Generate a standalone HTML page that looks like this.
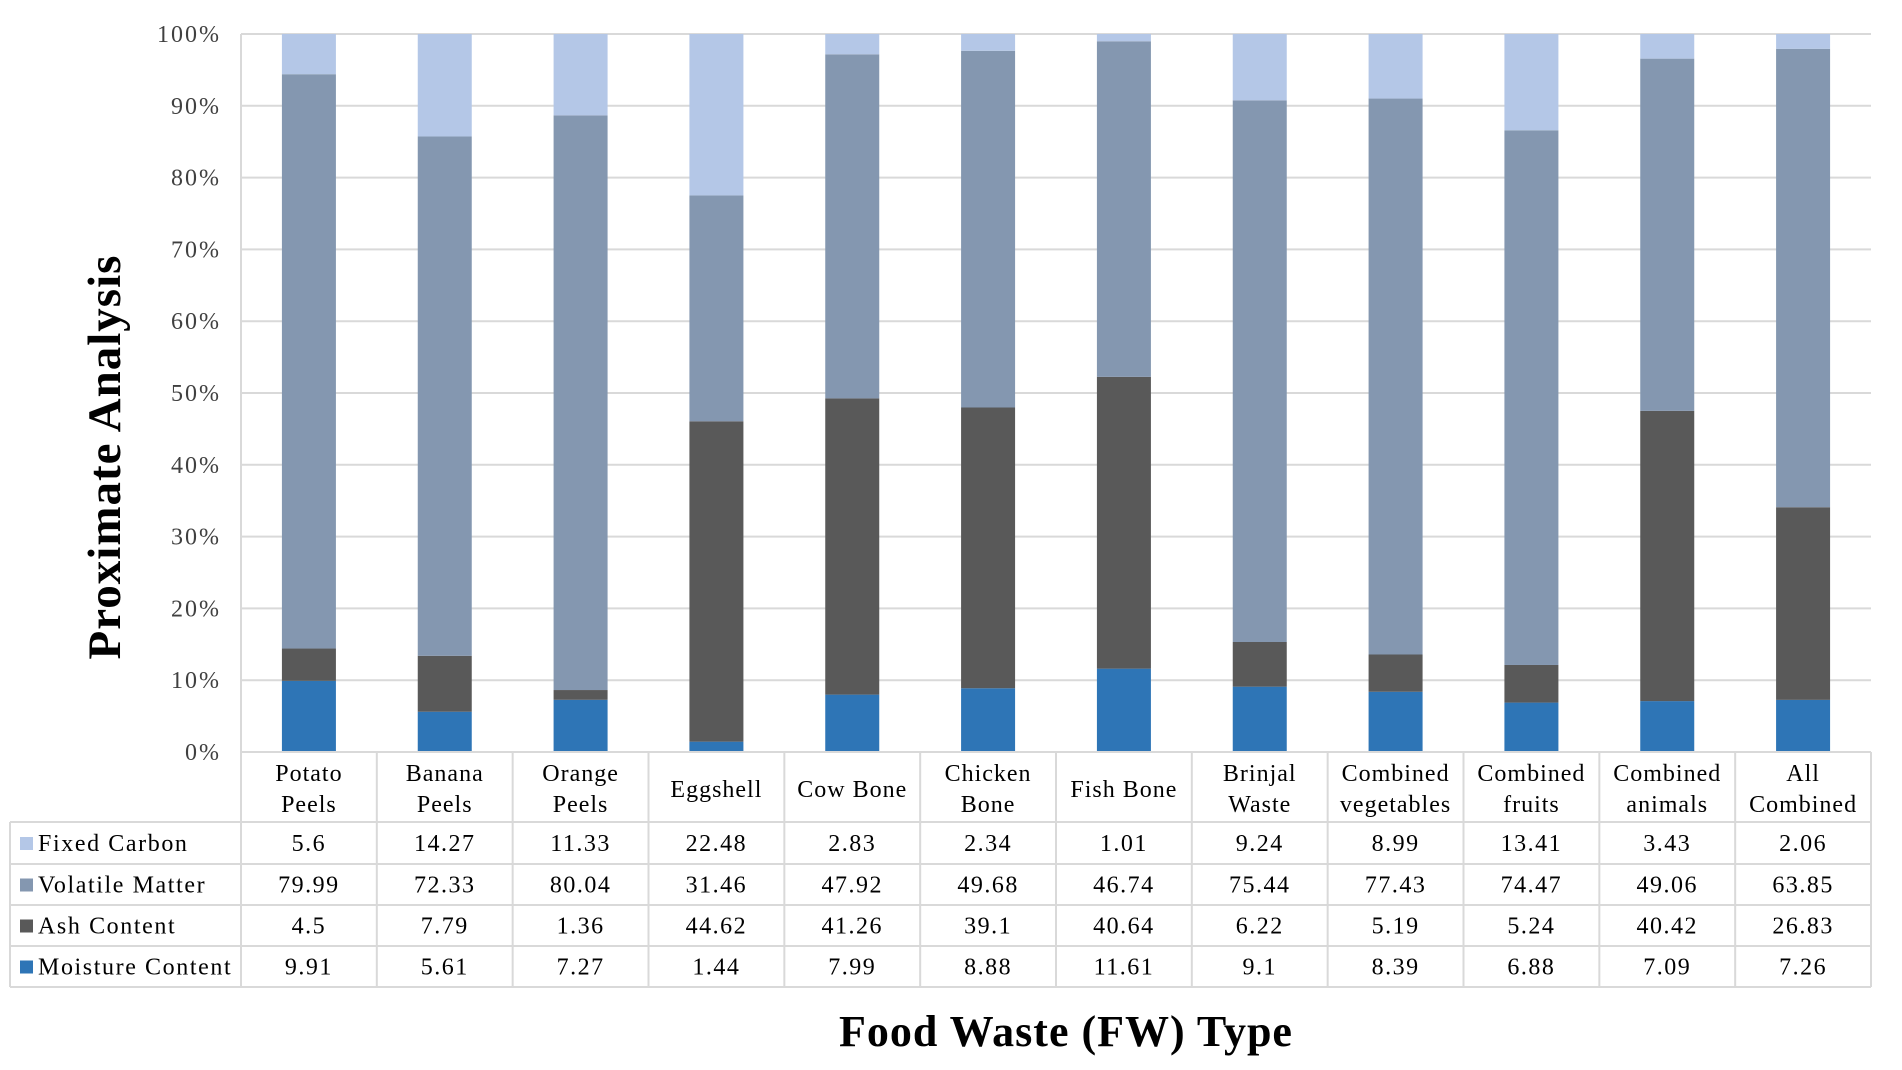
<!DOCTYPE html>
<html><head><meta charset="utf-8"><style>
html,body{margin:0;padding:0;background:#fff;}
svg{display:block;font-family:"Liberation Serif",serif;}
</style></head><body>
<svg id="chart" width="1902" height="1070" viewBox="0 0 1902 1070" xmlns="http://www.w3.org/2000/svg">
<text transform="translate(120,457) rotate(-90)" text-anchor="middle" font-size="47" font-weight="bold" fill="#000" letter-spacing="1">Proximate Analysis</text>
<text x="1066" y="1046" text-anchor="middle" font-size="44" font-weight="bold" fill="#000" letter-spacing="1">Food Waste (FW) Type</text>
</svg>
<script>
const categories=[["Potato","Peels"],["Banana","Peels"],["Orange","Peels"],["Eggshell"],["Cow Bone"],["Chicken","Bone"],["Fish Bone"],["Brinjal","Waste"],["Combined","vegetables"],["Combined","fruits"],["Combined","animals"],["All","Combined"]];
const moisture=[9.91,5.61,7.27,1.44,7.99,8.88,11.61,9.1,8.39,6.88,7.09,7.26];
const ash=[4.5,7.79,1.36,44.62,41.26,39.1,40.64,6.22,5.19,5.24,40.42,26.83];
const volatile=[79.99,72.33,80.04,31.46,47.92,49.68,46.74,75.44,77.43,74.47,49.06,63.85];
const fixedCarbon=[5.6,14.27,11.33,22.48,2.83,2.34,1.01,9.24,8.99,13.41,3.43,2.06];
const tickLabels=["0%","10%","20%","30%","40%","50%","60%","70%","80%","90%","100%"];
const seriesNames=["Fixed Carbon","Volatile Matter","Ash Content","Moisture Content"];

const NS="http://www.w3.org/2000/svg";
const svg=document.getElementById('chart');
const L=241,R=1871,T=34,B=752;
const n=categories.length, cw=(R-L)/n, bw=54;
const colors={"Fixed Carbon":"#b4c7e7","Volatile Matter":"#8497b0","Ash Content":"#595959","Moisture Content":"#2e75b6"};
const seriesData={"Fixed Carbon":fixedCarbon,"Volatile Matter":volatile,"Ash Content":ash,"Moisture Content":moisture};
const yScale=p=>B-(B-T)*p/100;
const xCenter=i=>L+cw*(i+0.5);
function mk(tag,attrs){const e=document.createElementNS(NS,tag);for(const k in attrs)e.setAttribute(k,attrs[k]);svg.appendChild(e);return e;}

tickLabels.forEach((t,i)=>{
  const y=yScale(i*10);
  const g=mk('line',{x1:L,x2:R,y1:y,y2:y,stroke:'#d9d9d9','stroke-width':2});
  
  
  const tx=mk('text',{x:221,y:y+8,'text-anchor':'end','font-size':24,fill:'#404040','letter-spacing':'2'});
  tx.textContent=t;
  
  
});
mk('line',{x1:L,x2:L,y1:T,y2:B,stroke:'#d9d9d9','stroke-width':2});

const order=["Moisture Content","Ash Content","Volatile Matter","Fixed Carbon"];
categories.forEach((c,i)=>{
  const tot=order.reduce((s,k)=>s+seriesData[k][i],0);
  let acc=0;
  order.forEach(k=>{
    const v=seriesData[k][i]/tot*100;
    const y0=yScale(acc),y1=yScale(acc+v);
    const r=mk('rect',{x:xCenter(i)-bw/2,y:y1,width:bw,height:y0-y1,fill:colors[k]});
    
    
    acc+=v;
  });
});

const rowY=[822,864,905,946,987];
const tl=10;
const grid='#d9d9d9';
mk('line',{x1:L,x2:R,y1:B,y2:B,stroke:grid,'stroke-width':2});
rowY.forEach(y=>mk('line',{x1:tl,x2:R,y1:y,y2:y,stroke:grid,'stroke-width':2}));
for(let i=0;i<=n;i++){const x=L+cw*i;mk('line',{x1:x,x2:x,y1:B,y2:rowY[4],stroke:grid,'stroke-width':2});}
mk('line',{x1:tl,x2:tl,y1:rowY[0],y2:rowY[4],stroke:grid,'stroke-width':2});
categories.forEach((c,i)=>{
  const t=mk('text',{x:xCenter(i),'text-anchor':'middle','font-size':24,fill:'#000','letter-spacing':'1'});
  
  
  if(c.length===1){t.setAttribute('y',797);t.textContent=c[0];}
  else{
    const a=document.createElementNS(NS,'tspan');a.setAttribute('x',xCenter(i));a.setAttribute('y',781);a.textContent=c[0];t.appendChild(a);
    const b=document.createElementNS(NS,'tspan');b.setAttribute('x',xCenter(i));b.setAttribute('y',812);b.textContent=c[1];t.appendChild(b);
  }
});
seriesNames.forEach((s,r)=>{
  const y0=rowY[r], y1=rowY[r+1], ym=(y0+y1)/2;
  const sw=mk('rect',{x:20,y:ym-6,width:13,height:13,fill:colors[s]});
  
  
  const lt=mk('text',{x:38,y:ym+8,'font-size':24,fill:'#000','letter-spacing':'1.6'});
  lt.textContent=s;
  
  
  seriesData[s].forEach((v,i)=>{
    const vt=mk('text',{x:xCenter(i),y:ym+8,'text-anchor':'middle','font-size':24,fill:'#000','letter-spacing':'1.5'});
    vt.textContent=String(v);
    
    
  });
});
</script>
</body></html>
